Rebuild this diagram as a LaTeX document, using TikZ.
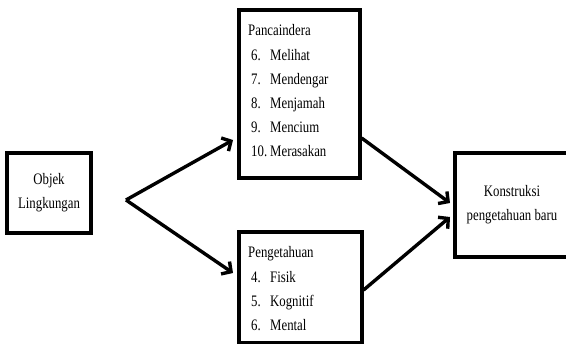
\documentclass[tikz,border=0pt]{standalone}
\usepackage{fontspec}
\usepackage{tikz}
\usetikzlibrary{arrows.meta}
\newfontfamily\tnr[FakeStretch=0.8]{Liberation Serif}

\begin{document}
\begin{tikzpicture}[x=1pt,y=-1pt,
  every node/.style={font=\tnr\fontsize{16}{24}\selectfont},
  box/.style={draw, line width=3.2pt, inner sep=0pt, align=center},
  item/.style={anchor=base west, inner sep=0pt},
  arr/.style={line width=3.4pt, -{Straight Barb[length=7pt,width=15pt]}}]
  \useasboundingbox (0,0) rectangle (566,344);
  \node[box, minimum width=84pt, minimum height=80pt] (objek) at (49,193) {Objek\\Lingkungan};
  \node[box, minimum width=121pt, minimum height=168pt] (panca) at (299.5,94) {};
  \node[box, minimum width=123pt, minimum height=111pt] (tahu) at (300.5,287.5) {};
  \node[box, minimum width=114pt, minimum height=104pt] (konst) at (512,205) {Konstruksi\\pengetahuan baru};
  \node[item] (pancatitle) at (248,36) {Pancaindera};
  \foreach \n/\t [count=\i] in {6/Melihat, 7/Mendengar, 8/Menjamah, 9/Mencium, 10/Merasakan}
    \node[item] (panca\i) at (251,{36+24.2*\i}) {\makebox[19pt][l]{\n.}\t};
  \node[item] (tahutitle) at (248,258) {Pengetahuan};
  \foreach \n/\t [count=\i] in {4/Fisik, 5/Kognitif, 6/Mental}
    \node[item] (tahu\i) at (251,{258+24.2*\i}) {\makebox[19pt][l]{\n.}\t};
  % arrows
  \coordinate (fork) at (126,200);
  \coordinate (pancatip) at (233,140);
  \coordinate (tahutip) at (233,273);
  \coordinate (konsttipA) at (450,203);
  \coordinate (konsttipB) at (450,217);
  \draw[arr] (fork) -- (pancatip);
  \draw[arr] (fork) -- (tahutip);
  \draw[arr] (panca.east |- 0,138) -- (konsttipA);
  \draw[arr] (tahu.east |- 0,290) -- (konsttipB);
\end{tikzpicture}
\end{document}
